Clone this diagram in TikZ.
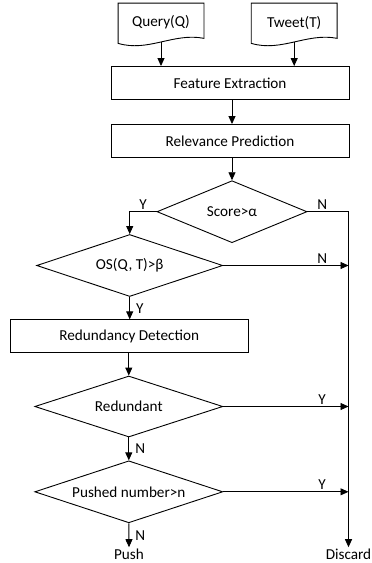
\documentclass[tikz,border=0pt]{standalone}
\usepackage{fontspec}
\setmainfont{Carlito}
\usetikzlibrary{shapes,arrows.meta}

\begin{document}
\begin{tikzpicture}[x=1pt,y=-1pt,font=\fontsize{15.2}{18}\selectfont,line width=0.9pt,>={Triangle[length=8pt,width=7pt]}]
	\tikzstyle{process}=[rectangle,draw,minimum width=238pt,minimum height=33pt,inner sep=0pt]
	\tikzstyle{decision}=[diamond,aspect=3,draw,minimum width=188pt,minimum height=62pt,inner sep=0pt]
	\tikzstyle{docshape}=[rectangle,minimum width=85pt,minimum height=38pt,inner sep=0pt]
	\tikzstyle{terminal}=[inner sep=1pt]
	\tikzstyle{branch}=[inner sep=2pt]
	\tikzstyle{sidebranch}=[inner sep=2pt,right,xshift=4pt]

	\useasboundingbox (0,0) rectangle (372,563);

	% inputs
	\node [docshape] (query) at (161,22.5) {Query(Q)};
	\node [docshape] (tweet) at (294.2,22.5) {Tweet(T)};
	\draw (query.north west) -- (query.north east) -- ([yshift=3.6pt]query.south east)
		.. controls +(-30,-6) and +(30,9) .. ([yshift=-1.4pt]query.south west) -- cycle;
	\draw (tweet.north west) -- (tweet.north east) -- ([yshift=3.6pt]tweet.south east)
		.. controls +(-30,-6) and +(30,9) .. ([yshift=-1.4pt]tweet.south west) -- cycle;

	\node [process] (feature) at (230,83) {Feature Extraction};
	\node [process] (relevance) at (230,141) {Relevance Prediction};
	\node [decision,minimum width=150pt] (score) at (232,211.7) {Score>α};
	\node [decision,minimum width=186pt] (overlap) at (129.7,265.5) {OS(Q, T)>β};
	\node [process] (redundancy) at (129.2,336.3) {Redundancy Detection};
	\node [decision,minimum height=61pt] (redundant) at (128.8,406.5) {Redundant};
	\node [decision] (pushed) at (128.8,491.8) {Pushed number>n};
	\node [terminal] (push) at (129,554) {Push};
	\node [terminal] (discard) at (348.5,554) {Discard};

	% connectors
	\draw [->] (query.south) -- (query.south |- feature.north);
	\draw [->] (tweet.south) -- (tweet.south |- feature.north);
	\draw [->] (feature.south -| score.north) -- (relevance.north -| score.north);
	\draw [->] (relevance.south -| score.north) -- (score.north);
	\draw [->] (score.west) -- node [branch,above] {Y} (score.west -| overlap.north) -- (overlap.north);
	\draw [->] (score.east) -- node [branch,above,pos=0.36] {N} (score.east -| discard.north) -- (discard.north);
	\draw [->] (overlap.east) -- node [branch,above,pos=0.79] {N} (overlap.east -| discard.north);
	\draw [->] (overlap.south) -- node [sidebranch] {Y} (overlap.south |- redundancy.north);
	\draw [->] (redundancy.south -| redundant.north) -- (redundant.north);
	\draw [->] (redundant.east) -- node [branch,above,pos=0.79] {Y} (redundant.east -| discard.north);
	\draw [->] (redundant.south) -- node [sidebranch] {N} (pushed.north);
	\draw [->] (pushed.east) -- node [branch,above,pos=0.79] {Y} (pushed.east -| discard.north);
	\draw [->] (pushed.south) -- node [sidebranch] {N} (push.north);
\end{tikzpicture}
\end{document}
